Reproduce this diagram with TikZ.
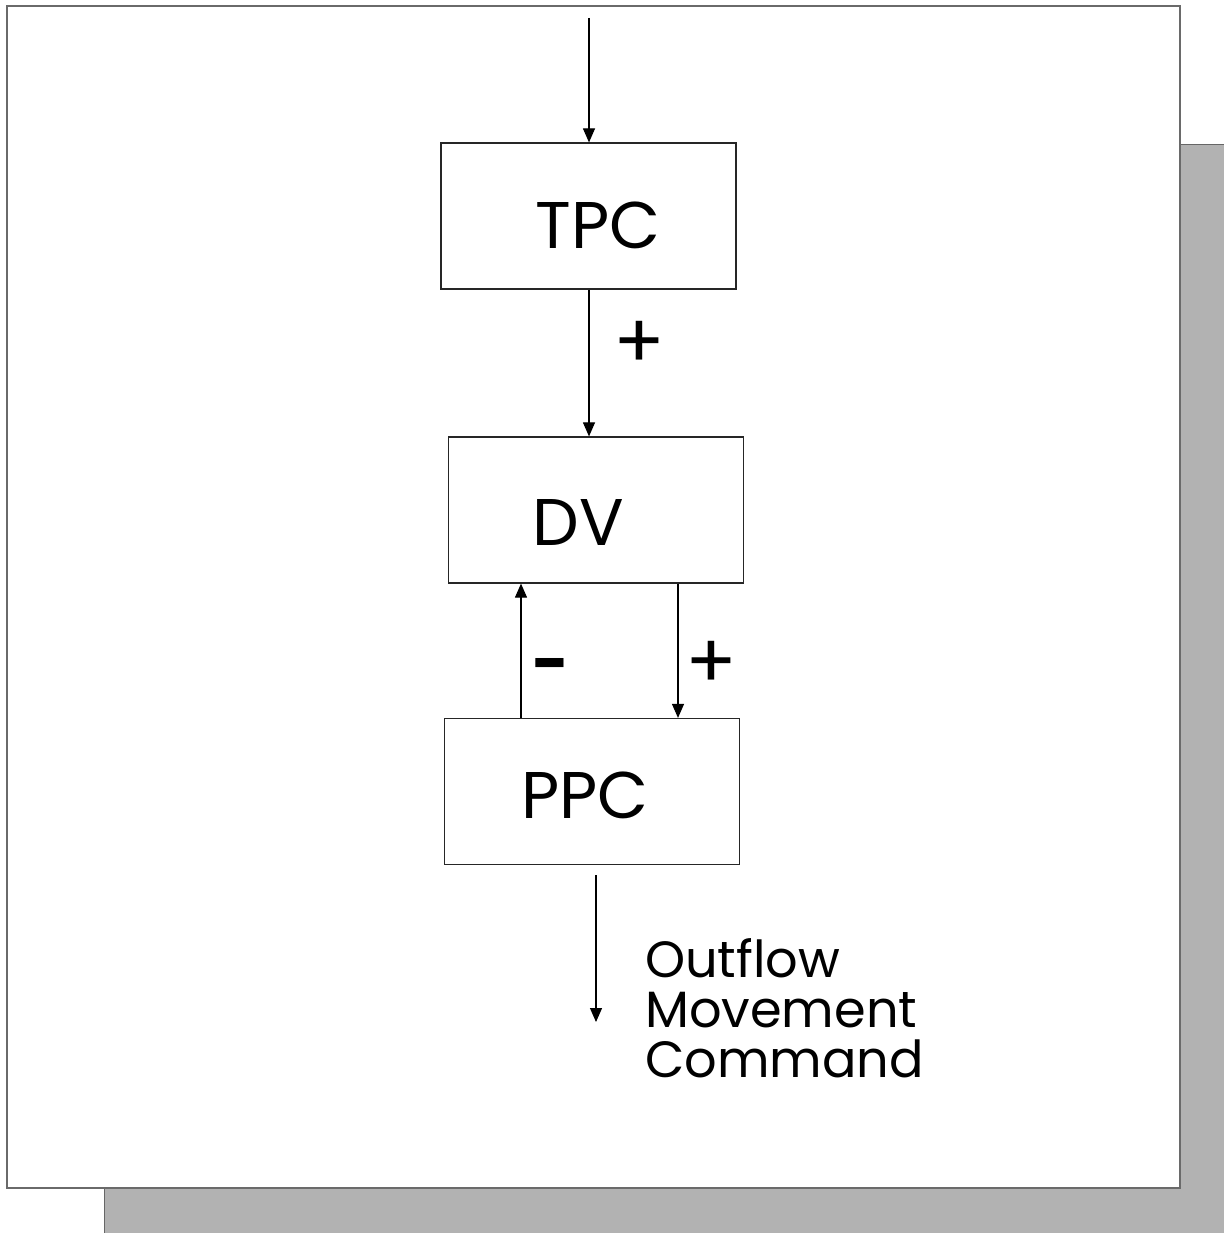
\documentclass[tikz,border=0pt]{standalone}
\usepackage{fontspec}
\setmainfont{Poppins}
\usetikzlibrary{arrows.meta}
\definecolor{shadowgray}{HTML}{B2B2B2}
\definecolor{framecol}{HTML}{6A6A6A}
\tikzset{
  box/.style={draw=black!85, line width=1.2pt, minimum width=295pt, minimum height=146pt, inner sep=0pt},
  boxtext/.style={font=\fontsize{66}{70}\selectfont, inner sep=0pt},
  sign/.style={font=\fontsize{76}{80}\selectfont, inner sep=0pt},
  arr/.style={line width=1.1pt, -{Triangle[length=14pt,width=12pt]}},
}
\begin{document}
\begin{tikzpicture}[x=1pt,y=-1pt]
\useasboundingbox (0,0) rectangle (1224,1233);
% shadow and frame
\fill[shadowgray] (104,145) rectangle (1224,1233);
\draw[black!60, line width=1pt] (104,1233) -- (104,145) -- (1224,145);
\draw[framecol, line width=1.6pt, fill=white] (7,6) rectangle (1180,1188);
% boxes
\node[box] (tpc) at (588.5,216) {};
\node[box] (dv) at (596,510) {};
\node[box] (ppc) at (592,791.5) {};
\node[boxtext] (tpct) at (598,225) {TPC};
\node[boxtext] (dvt) at (578,522) {DV};
\node[boxtext] (ppct) at (585,795) {PPC};
% connector coordinates
\coordinate (in) at (589,18);
\coordinate (c1) at (589,0);
\coordinate (c2) at (678,0);
\coordinate (c3) at (521,0);
\coordinate (c4) at (596,875);
\coordinate (out) at (596,1022);
\draw[arr] (in) -- (in |- tpc.north);
\draw[arr] (tpc.south -| c1) -- (dv.north -| c1);
\draw[arr] (dv.south -| c2) -- (ppc.north -| c2);
\draw[arr] (ppc.north -| c3) -- (dv.south -| c3);
\draw[arr] (c4) -- (out);
% signs
\node[sign] (p1) at (639,345) {+};
\node[sign] (p2) at (711,665) {+};
\node[sign, font=\fontsize{64}{70}\selectfont\bfseries] (m1) at (551,672) {-};
\node[font=\fontsize{51}{50}\selectfont, align=left, anchor=base west, inner sep=0pt] (lbl) at (645,1077) {Outflow\\Movement\\Command};
\end{tikzpicture}
\end{document}
